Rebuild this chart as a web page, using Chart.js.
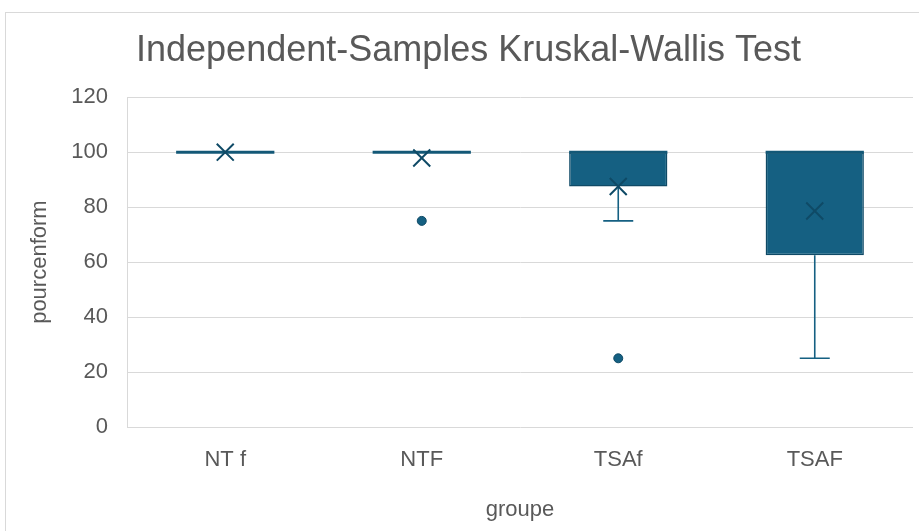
<!DOCTYPE html>
<html>
<head>
<meta charset="utf-8">
<script src="https://cdn.jsdelivr.net/npm/chart.js@4.4.1/dist/chart.umd.min.js"></script>
<style>
  html, body { margin: 0; padding: 0; background: #fff; overflow: hidden; }
  #frame { position: absolute; left: 5px; top: 12px; width: 940px; height: 560px; border: 1px solid #d9d9d9; }
  #wrap { position: absolute; left: 0; top: 0; width: 927px; height: 531px; }
</style>
</head>
<body>
<div id="frame"></div>
<div id="wrap"><canvas id="boxChart"></canvas></div>
<script>
// box plot values per groupe
const groups = ["NT f", "NTF", "TSAf", "TSAF"];
const whiskerLow = [100, 100, 75, 25];
const q1 = [100, 100, 87.5, 62.5];
const median = [100, 100, 100, 100];
const q3 = [100, 100, 100, 100];
const whiskerHigh = [100, 100, 100, 100];
const means = [100, 97.9, 87.5, 78.6];
const outliers = [null, 75, 25, null];
const yTicks = [0, 20, 40, 60, 80, 100, 120];

const BOX_COLOR = "#156082";
const DARK = "#0f4a66";
const TEXT = "#595959";
const GRID = "#d9d9d9";
const FONT = "'Liberation Sans', Arial, sans-serif";

// whiskers + median lines, positioned through the chart's scales
const boxExtras = {
  id: "boxExtras",
  beforeDatasetsDraw(chart) {
    const { ctx, scales: { x, y } } = chart;
    ctx.save();
    ctx.strokeStyle = BOX_COLOR;
    ctx.lineWidth = 1.6;
    groups.forEach((g, i) => {
      const cx = x.getPixelForValue(i);
      const cap = 15;
      if (whiskerLow[i] < q1[i]) {
        ctx.beginPath();
        ctx.moveTo(cx, y.getPixelForValue(q1[i]));
        ctx.lineTo(cx, y.getPixelForValue(whiskerLow[i]));
        ctx.moveTo(cx - cap, y.getPixelForValue(whiskerLow[i]));
        ctx.lineTo(cx + cap, y.getPixelForValue(whiskerLow[i]));
        ctx.stroke();
      }
      if (whiskerHigh[i] > q3[i]) {
        ctx.beginPath();
        ctx.moveTo(cx, y.getPixelForValue(q3[i]));
        ctx.lineTo(cx, y.getPixelForValue(whiskerHigh[i]));
        ctx.moveTo(cx - cap, y.getPixelForValue(whiskerHigh[i]));
        ctx.lineTo(cx + cap, y.getPixelForValue(whiskerHigh[i]));
        ctx.stroke();
      }
    });
    ctx.restore();
  },
  afterDatasetDraw(chart, args) {
    if (args.index !== 0) return;
    const { ctx, scales: { x, y } } = chart;
    const bars = chart.getDatasetMeta(0).data;
    ctx.save();
    ctx.strokeStyle = "#135877";
    ctx.lineWidth = 3;
    groups.forEach((g, i) => {
      const cx = x.getPixelForValue(i);
      const half = bars[i].width / 2;
      const my = y.getPixelForValue(median[i]);
      ctx.beginPath();
      ctx.moveTo(cx - half, my);
      ctx.lineTo(cx + half, my);
      ctx.stroke();
    });
    ctx.restore();
  }
};

new Chart(document.getElementById("boxChart"), {
  type: "bar",
  data: {
    labels: groups,
    datasets: [
      {
        label: "box",
        data: groups.map((g, i) => [q1[i], q3[i]]),
        backgroundColor: BOX_COLOR,
        borderColor: DARK,
        borderWidth: 1.5,
        borderSkipped: false,
        barPercentage: 0.5,
        categoryPercentage: 1.0,
        order: 3
      },
      {
        type: "line",
        label: "mean",
        data: means,
        showLine: false,
        pointStyle: "crossRot",
        pointRadius: 12,
        pointBorderWidth: 2,
        pointBorderColor: DARK,
        pointBackgroundColor: DARK,
        order: 1
      },
      {
        type: "line",
        label: "outliers",
        data: outliers,
        showLine: false,
        pointStyle: "circle",
        pointRadius: 4.5,
        pointBorderWidth: 1,
        pointBorderColor: DARK,
        pointBackgroundColor: BOX_COLOR,
        order: 2
      }
    ]
  },
  options: {
    responsive: true,
    maintainAspectRatio: false,
    animation: false,
    layout: { padding: { left: 10, right: 0, top: 0, bottom: 0 } },
    plugins: {
      legend: { display: false },
      tooltip: { enabled: false },
      title: {
        display: true,
        text: "Independent-Samples Kruskal-Wallis Test",
        color: TEXT,
        font: { family: FONT, size: 36, weight: "normal" },
        padding: { top: 29, bottom: 25 }
      }
    },
    scales: {
      x: {
        grid: { display: false },
        border: { display: false },
        ticks: { color: TEXT, font: { family: FONT, size: 22 }, padding: 12 },
        title: {
          display: true,
          text: "groupe",
          color: TEXT,
          font: { family: FONT, size: 22 },
          padding: { top: 0, bottom: 8 }
        },
        afterFit(scale) {
          scale.height = 104;
          scale.paddingLeft = 0;
          scale.paddingRight = 0;
        }
      },
      y: {
        min: 0,
        max: 120,
        afterBuildTicks(scale) { scale.ticks = yTicks.map(v => ({ value: v })); },
        grid: { color: GRID, lineWidth: 1, drawTicks: false },
        border: { display: true, color: GRID },
        ticks: { color: TEXT, font: { family: FONT, size: 22 }, padding: 19 },
        title: {
          display: true,
          text: "pourcenform",
          color: TEXT,
          font: { family: FONT, size: 22 },
          padding: { top: 17, bottom: 0 }
        },
        afterFit(scale) { scale.width = 117; }
      }
    }
  },
  plugins: [boxExtras]
});
</script>
</body>
</html>
